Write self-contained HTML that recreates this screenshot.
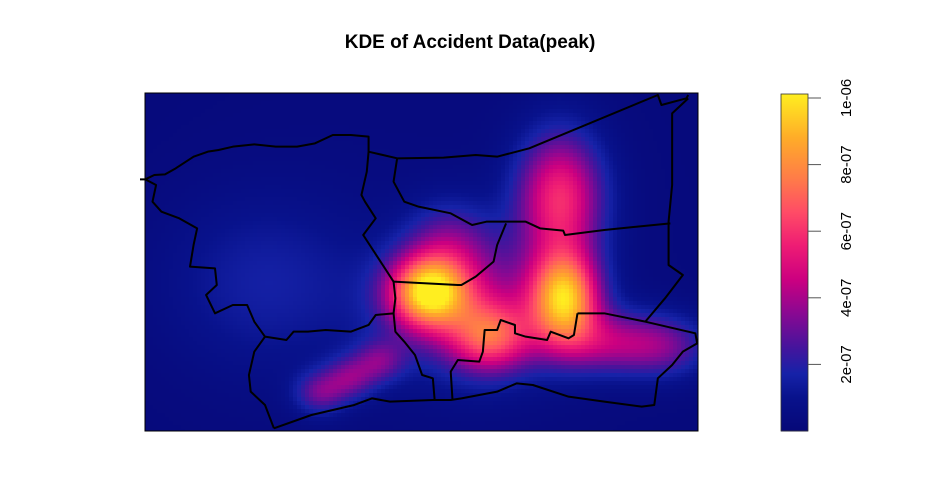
<!DOCTYPE html>
<html><head><meta charset="utf-8"><title>KDE of Accident Data(peak)</title>
<style>
html,body{margin:0;padding:0;background:#fff;}
body{width:926px;height:479px;overflow:hidden;font-family:"Liberation Sans",Arial,sans-serif;}
</style></head>
<body>
<svg id="chart" width="926" height="479" viewBox="0 0 926 479" xmlns="http://www.w3.org/2000/svg">
<text x="470" y="48" text-anchor="middle" font-family="Liberation Sans, Arial, sans-serif" font-weight="bold" font-size="19" fill="#000">KDE of Accident Data(peak)</text>
<g id="heat"></g>
<g id="bounds" transform="translate(140,85) scale(0.35714,0.33333)" fill="none" stroke="#000" stroke-width="2" stroke-linejoin="round">
<path vector-effect="non-scaling-stroke" d="M0,283 L15,283 L40,270 L70,268 L100,250 L150,215 L190,200 L220,195 L260,185 L320,178 L380,185 L440,185 L490,175 L540,150 L590,150 L640,155 L640,200 L635,260 L620,330 L630,350 L660,400 L625,450 L710,590 L715,640 L710,685 L660,690 L640,720 L590,740 L520,735 L470,740 L430,740 L410,765 L350,755 L320,710 L300,660 L260,660 L210,685 L185,630 L215,600 L210,550 L140,545 L150,480 L160,430 L110,400 L60,380 L35,350 L45,300 L15,283"/>
<path vector-effect="non-scaling-stroke" d="M710,590 L890,600 L900,600 L940,575 L990,530 L1000,480 L1025,415"/>
<path vector-effect="non-scaling-stroke" d="M640,200 L720,220 L850,218 L940,210 L1000,215 L1090,190 L1450,30 L1460,60 L1530,40 L1535,30"/>
<path vector-effect="non-scaling-stroke" d="M720,220 L710,290 L740,350 L780,365 L870,385 L930,420 L970,410 L1025,410 L1080,410 L1120,430 L1185,437 L1190,450 L1300,435 L1485,415"/>
<path vector-effect="non-scaling-stroke" d="M1535,40 L1490,85 L1490,300 L1480,410 L1480,540 L1520,570 L1470,640 L1415,710"/>
<path vector-effect="non-scaling-stroke" d="M1225,685 L1300,685 L1415,710 L1555,745 L1560,775 L1520,800 L1490,840 L1450,880 L1440,960 L1405,965 L1300,950 L1200,935 L1100,900 L1055,895 L1000,920 L900,940 L870,945 L820,945 L700,950 L650,940 L600,960 L480,990 L375,1030"/>
<path vector-effect="non-scaling-stroke" d="M1225,685 L1215,750 L1200,760 L1150,740 L1140,765 L1080,755 L1050,745 L1050,720 L1010,705 L1000,735 L965,735 L960,800 L950,830 L890,825 L870,860 L875,945"/>
<path vector-effect="non-scaling-stroke" d="M710,685 L715,740 L740,770 L770,810 L790,870 L820,880 L825,945 M350,755 L320,800 L305,870 L310,920 L350,960 L375,1030"/>
</g>
<rect x="145" y="93" width="553" height="338" fill="none" stroke="#000" stroke-width="1"/>
<g id="cbar"></g>
</svg>
<script>
// accident kernel locations (plot map units, x 0..553 east, y 0..338 south)
const kernelX = [283, 420, 415, 345, 175, 205, 235, 470, 330, 120, 305, 276, 525];
const kernelY = [199, 205, 105, 245, 300, 285, 268, 250, 215, 190, 150, 169, 255];
const kernelSpreadX = [27, 24, 30, 28, 18, 18, 18, 45, 60, 70, 30, 300, 30];
const kernelSpreadY = [25, 32, 45, 24, 15, 15, 15, 22, 45, 60, 30, 300, 22];
const kernelWeight = [8.0, 8.0, 5.5, 4.5, 2.6, 2.6, 2.4, 3.5, 3.3, 1.3, 2.2, 0.35, 1.6]; // x1e-7
const tickValues = [2e-7, 4e-7, 6e-7, 8e-7, 1e-6];
const tickLabels = ["2e-07", "4e-07", "6e-07", "8e-07", "1e-06"];
const zMax = 1.012e-6;

const NS = "http://www.w3.org/2000/svg";
const plot = {x0:145, y0:93, w:553, h:338};
const xScale = v => plot.x0 + v;
const yScale = v => plot.y0 + v;
const cbY = v => 431 - (v / zMax) * (431 - 94);

const stops = [[0,[6,8,120]],[0.1,[8,18,140]],[0.17,[22,34,168]],[0.25,[70,20,156]],[0.35,[138,8,146]],[0.45,[204,0,128]],[0.55,[238,28,116]],[0.65,[255,76,102]],[0.75,[255,124,72]],[0.87,[255,172,40]],[1,[255,238,32]]];
function colorOf(t){
  t = Math.max(0, Math.min(1, t));
  for (let i = 1; i < stops.length; i++) {
    if (t <= stops[i][0]) {
      const a = stops[i-1], b = stops[i], f = (t - a[0]) / (b[0] - a[0]);
      const c = a[1].map((v, k) => Math.round(v + (b[1][k] - v) * f));
      return "rgb(" + c.join(",") + ")";
    }
  }
  return "rgb(255,238,32)";
}
function density(x, y){
  let s = 0;
  for (let i = 0; i < kernelX.length; i++) {
    const dx = (x - kernelX[i]) / kernelSpreadX[i], dy = (y - kernelY[i]) / kernelSpreadY[i];
    s += kernelWeight[i] * 1e-7 * Math.exp(-0.5 * (dx*dx + dy*dy));
  }
  return s;
}
const heat = document.getElementById("heat");
const cell = 4;
for (let gy = 0; gy < plot.h; gy += cell) {
  for (let gx = 0; gx < plot.w; gx += cell) {
    const r = document.createElementNS(NS, "rect");
    const cw = Math.min(cell, plot.w - gx), ch = Math.min(cell, plot.h - gy);
    r.setAttribute("x", xScale(gx)); r.setAttribute("y", yScale(gy));
    r.setAttribute("width", cw + 0.5); r.setAttribute("height", ch + 0.5);
    r.setAttribute("fill", colorOf(density(gx + cw/2, gy + ch/2) / zMax));
    
    
    heat.appendChild(r);
  }
}
const cbar = document.getElementById("cbar");
for (let py = 94; py < 431; py++) {
  const r = document.createElementNS(NS, "rect");
  r.setAttribute("x", 781); r.setAttribute("y", py); r.setAttribute("width", 27); r.setAttribute("height", 1.5);
  r.setAttribute("fill", colorOf((431 - py - 0.5) / (431 - 94)));
  
  
  cbar.appendChild(r);
}
const frame = document.createElementNS(NS, "rect");
frame.setAttribute("x", 781); frame.setAttribute("y", 94); frame.setAttribute("width", 27); frame.setAttribute("height", 337);
frame.setAttribute("fill", "none"); frame.setAttribute("stroke", "#333"); frame.setAttribute("stroke-width", "0.8");


cbar.appendChild(frame);
tickValues.forEach((v, i) => {
  const y = cbY(v);
  const l = document.createElementNS(NS, "line");
  l.setAttribute("x1", 808); l.setAttribute("x2", 821); l.setAttribute("y1", y); l.setAttribute("y2", y);
  l.setAttribute("stroke", "#555"); l.setAttribute("stroke-width", "1");
  
  
  cbar.appendChild(l);
  const t = document.createElementNS(NS, "text");
  t.setAttribute("x", 0); t.setAttribute("y", 0);
  t.setAttribute("transform", "translate(851," + y + ") rotate(-90)");
  t.setAttribute("text-anchor", "middle");
  t.setAttribute("font-size", "15"); t.setAttribute("fill", "#000");
  t.setAttribute("font-family", "Liberation Sans, Arial, sans-serif");
  t.textContent = tickLabels[i];
  
  
  cbar.appendChild(t);
});
</script>
</body></html>
